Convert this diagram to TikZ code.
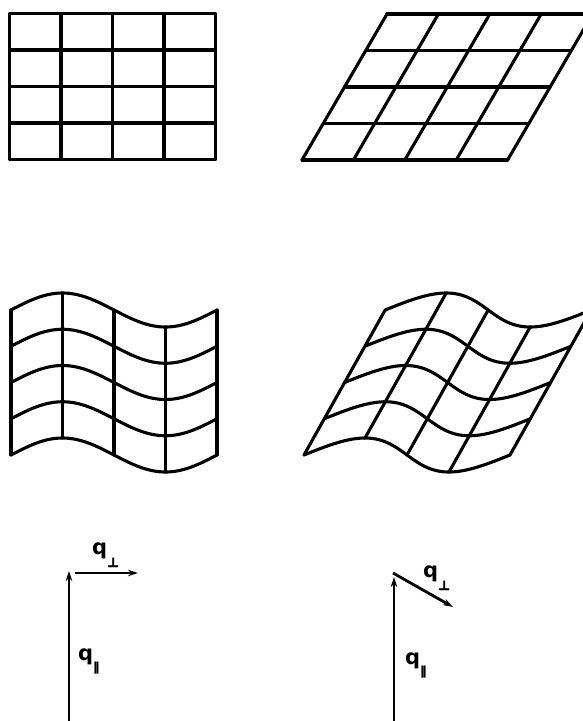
\documentclass[tikz,border=0pt]{standalone}
\usepackage{fontspec}
\setmainfont{DejaVu Sans}
\newfontfamily\symbolbold[FakeBold=2.5]{DejaVu Sans}
\usetikzlibrary{arrows.meta}
\newcommand{\subperp}{\raisebox{-13pt}{\fontsize{13}{13}\symbolbold ⊥}}
\newcommand{\subpar}{\raisebox{-11pt}{\fontsize{12}{12}\symbolbold ∥}}
\begin{document}
\begin{tikzpicture}[x=1pt,y=-1pt,
  gridline/.style={line width=3.1pt,line cap=round,line join=round},
  vec/.style={line width=2.8pt,-{Stealth[length=10pt,width=6.5pt]}},
  lbl/.style={font=\fontsize{21}{24}\selectfont\bfseries,inner sep=0pt,anchor=base west}]
\useasboundingbox (0,0) rectangle (583,721);
\clip (0,0) rectangle (583,721);
% top-left rectangular grid
\foreach \i in {0,...,4}{
  \draw[gridline] ({9.5+51.5*\i},13.5) -- ({9.5+51.5*\i},159.5);
  \draw[gridline] (9.5,{13.5+36.5*\i}) -- (215.5,{13.5+36.5*\i});
}
% top-right sheared grid
\foreach \i in {0,...,4}{
  \draw[gridline] ({302+51.4*\i},160) -- ({387+51.4*\i},14);
  \draw[gridline] ({302+21.25*\i},{160-36.5*\i}) -- ({507.6+21.25*\i},{160-36.5*\i});
}
% middle-left wavy grid
\foreach \rr in {0,...,4}{
  \draw[gridline] plot[variable=\t,domain=0:206,samples=104] ({11+\t},{310+36.25*\rr-17*sin(1.747573*\t)});
}
\foreach \u in {0,51.5,103,154.5,206}{
  \draw[gridline] ({11+\u},{310-17*sin(1.747573*\u)}) -- ({11+\u},{455-17*sin(1.747573*\u)});
}
% middle-right sheared wavy grid
\foreach \rr in {0,...,4}{
  \draw[gridline] plot[variable=\t,domain=0:206,samples=104] ({304+\t+0.56*(145-36.25*\rr+17*sin(1.747573*\t))},{310+36.25*\rr-17*sin(1.747573*\t)});
}
\foreach \u in {0,51.5,103,154.5,206}{
  \draw[gridline] ({304+\u+0.56*(145+17*sin(1.747573*\u))},{310-17*sin(1.747573*\u)}) -- ({304+\u+0.56*(17*sin(1.747573*\u))},{455-17*sin(1.747573*\u)});
}
% bottom-left vectors
\coordinate (la) at (69,721);
\coordinate (lb) at (69,571);
\coordinate (lc) at (75,573);
\coordinate (ld) at (138,573);
\draw[vec] (la) -- (lb);
\draw[vec] (lc) -- (ld);
\node[lbl] (lperp) at (92,554) {q\subperp};
\node[lbl] (lpar) at (78,660) {q\subpar};
% bottom-right vectors
\coordinate (ra) at (394,721);
\coordinate (rb) at (394,577);
\coordinate (rc) at (393,573);
\coordinate (rd) at (453,607);
\draw[vec] (ra) -- (rb);
\draw[vec] (rc) -- (rd);
\node[lbl] (rperp) at (423,577) {q\subperp};
\node[lbl] (rpar) at (405,664) {q\subpar};
\end{tikzpicture}
\end{document}
